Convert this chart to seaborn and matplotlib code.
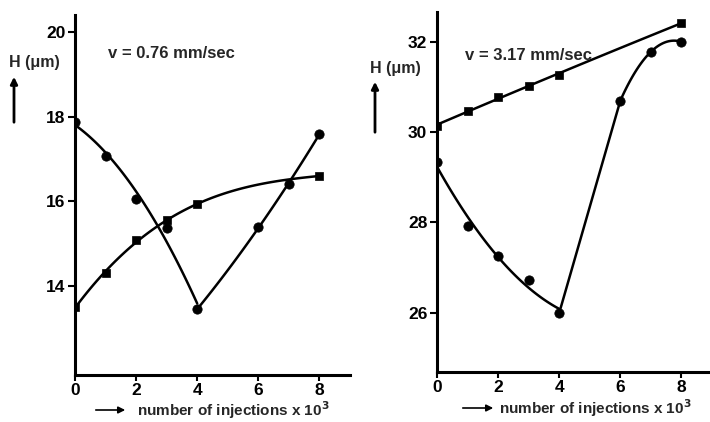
import numpy as np
import pandas as pd
import matplotlib
matplotlib.use("Agg")
import matplotlib.pyplot as plt
import seaborn as sns

sns.set_theme(style="ticks")
plt.rcParams['font.family'] = ['Liberation Sans', 'DejaVu Sans']
plt.rcParams['font.weight'] = 'bold'

# ---- data: left panel (v = 0.76 mm/sec) ----
left_circle_x = [0, 1, 2, 3, 4, 6, 7, 8]
left_circle_y = [17.88, 17.06, 16.05, 15.38, 13.45, 15.4, 16.4, 17.6]
left_square_x = [0, 1, 2, 3, 4, 8]
left_square_y = [13.5, 14.3, 15.08, 15.55, 15.93, 16.6]

# ---- data: right panel (v = 3.17 mm/sec) ----
right_circle_x = [0, 1, 2, 3, 4, 6, 7, 8]
right_circle_y = [29.33, 27.93, 27.26, 26.72, 26.0, 30.7, 31.78, 32.0]
right_square_x = [0, 1, 2, 3, 4, 8]
right_square_y = [30.14, 30.47, 30.78, 31.02, 31.27, 32.42]

x_ticks = [0, 2, 4, 6, 8]
left_yticks = [14, 16, 18, 20]
right_yticks = [26, 28, 30, 32]
left_title = "v = 0.76 mm/sec"
right_title = "v = 3.17 mm/sec"
y_label = "H (μm)"
x_label = "number of injections x 10$^3$"


def fit_segment(xs, ys, lo, hi, deg):
    xs = np.asarray(xs, float)
    ys = np.asarray(ys, float)
    m = (xs >= lo) & (xs <= hi)
    c = np.polyfit(xs[m], ys[m], deg)
    xx = np.linspace(lo, hi, 80)
    return xx, np.polyval(c, xx)


def draw_curve(ax, xs, ys, segments):
    for lo, hi, deg in segments:
        xx, yy = fit_segment(xs, ys, lo, hi, deg)
        sns.lineplot(x=xx, y=yy, ax=ax, color='black', lw=1.8, sort=False,
                     estimator=None)


fig = plt.figure(figsize=(7.10, 4.22), dpi=100)
axL = fig.add_axes([75/710, 1-375/422, 275/710, 360/422])
axR = fig.add_axes([437/710, 1-372/422, 272/710, 360/422])

# left
draw_curve(axL, left_circle_x, left_circle_y, [(0, 4, 2), (4, 8, 2)])
draw_curve(axL, left_square_x, left_square_y, [(0, 8, 3)])
sns.scatterplot(x=left_circle_x, y=left_circle_y, ax=axL, marker='o', s=45,
                color='black', edgecolor='black', zorder=5)
sns.scatterplot(x=left_square_x, y=left_square_y, ax=axL, marker='s', s=38,
                color='black', edgecolor='black', zorder=5)
axL.set_xlim(0, 9)
axL.set_ylim(11.9, 20.4)
axL.set_yticks(left_yticks)

# right
draw_curve(axR, right_circle_x, right_circle_y, [(0, 4, 2), (4, 6, 1), (6, 8, 2)])
draw_curve(axR, right_square_x, right_square_y, [(0, 8, 2)])
sns.scatterplot(x=right_circle_x, y=right_circle_y, ax=axR, marker='o', s=45,
                color='black', edgecolor='black', zorder=5)
sns.scatterplot(x=right_square_x, y=right_square_y, ax=axR, marker='s', s=38,
                color='black', edgecolor='black', zorder=5)
axR.set_xlim(0, 8.9)
axR.set_ylim(24.69, 32.66)
axR.set_yticks(right_yticks)

for ax in (axL, axR):
    sns.despine(ax=ax)
    ax.set_xticks(x_ticks)
    ax.spines['left'].set_linewidth(2.2)
    ax.spines['bottom'].set_linewidth(2.2)
    ax.spines['left'].set_color('black')
    ax.spines['bottom'].set_color('black')
    ax.tick_params(axis='both', direction='out', length=5, width=1.5,
                   colors='black', labelsize=12.5, pad=2)
    ax.tick_params(axis='x', length=4, pad=2)
    for lab in ax.get_xticklabels() + ax.get_yticklabels():
        lab.set_fontweight('bold')
    ax.set_xlabel('')
    ax.set_ylabel('')
    ax.patch.set_alpha(0)
    ax.grid(False)

# annotations (figure pixel coords)
def fx(px):
    return px / 710


def fy(py):
    return 1 - py / 422

fig.text(fx(108), fy(53), left_title, fontsize=12, fontweight='bold', va='center')
fig.text(fx(465), fy(55), right_title, fontsize=12, fontweight='bold', va='center')

fig.text(fx(9), fy(63), y_label, fontsize=11.5, fontweight='bold', va='center')
fig.text(fx(370), fy(68), y_label, fontsize=11.5, fontweight='bold', va='center')

for xa, y0, y1 in [(14, 125, 74), (375, 135, 79)]:
    fig.add_artist(matplotlib.patches.FancyArrowPatch(
        (fx(xa), fy(y0)), (fx(xa), fy(y1)), transform=fig.transFigure,
        arrowstyle='-|>,head_length=4,head_width=2', lw=2, color='black'))

for xa0, xa1, yt, xt in [(93, 128, 410, 137), (460, 496, 408, 499)]:
    fig.add_artist(matplotlib.patches.FancyArrowPatch(
        (fx(xa0), fy(yt)), (fx(xa1), fy(yt)), transform=fig.transFigure,
        arrowstyle='-|>,head_length=4,head_width=2', lw=1.2, color='black'))
    fig.text(fx(xt), fy(yt), x_label, fontsize=11, fontweight='bold', va='center')

fig.savefig('out.png', dpi=100, facecolor='white')
